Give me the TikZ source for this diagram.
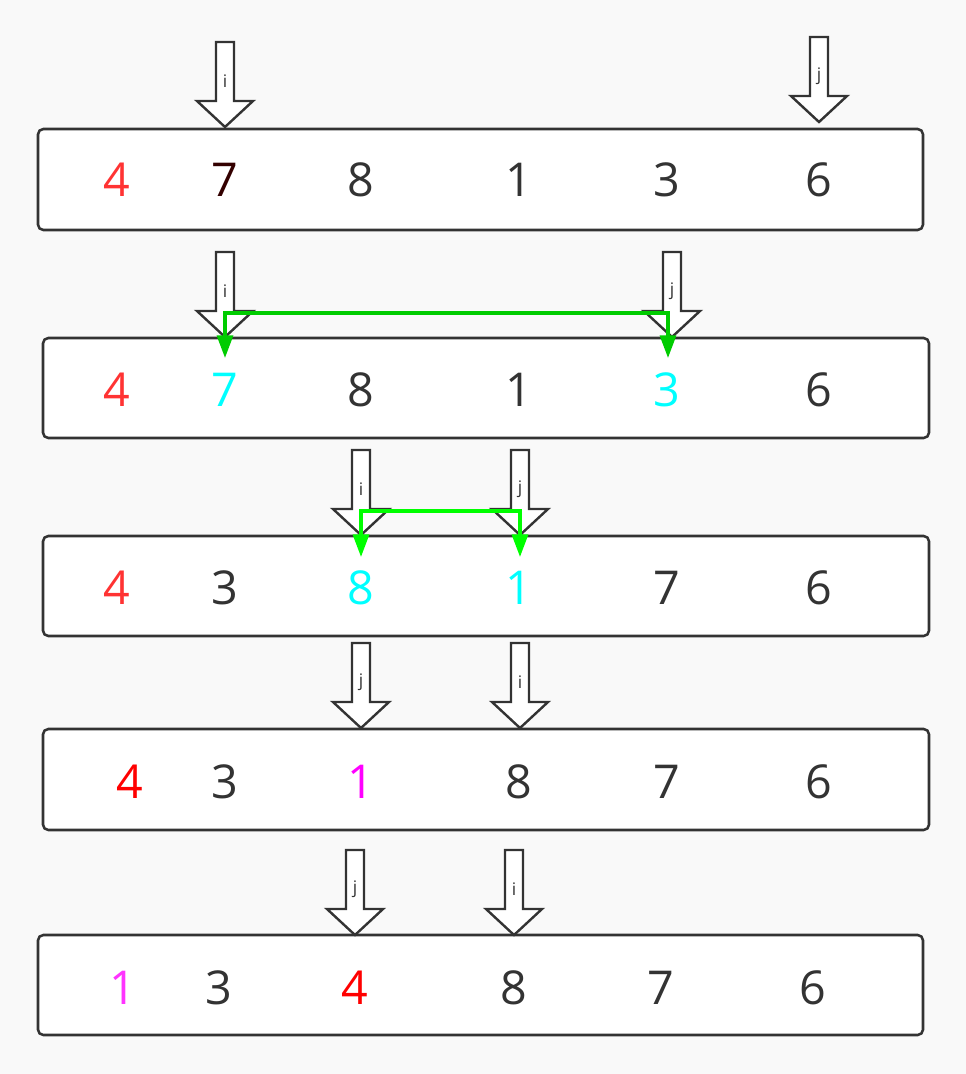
\documentclass[tikz,border=0pt]{standalone}
\usepackage{fontspec}
\setmainfont{Open Sans}
\usetikzlibrary{arrows.meta}
\definecolor{bg}{HTML}{F9F9F9}
\definecolor{dk}{HTML}{333333}
\definecolor{rd}{HTML}{FF3333}
\definecolor{prd}{HTML}{FF0000}
\definecolor{brn}{HTML}{330000}
\definecolor{cy}{HTML}{00FFFF}
\definecolor{mg}{HTML}{FF00FF}
\definecolor{lmg}{HTML}{FF33FF}
\definecolor{grA}{HTML}{00CC00}
\definecolor{grB}{HTML}{00FF00}
\begin{document}
\begin{tikzpicture}[x=0.75pt,y=-0.75pt,
  rowbox/.style={draw=dk, fill=white, line width=1.9pt, rounded corners=4pt},
  digit/.style={font=\fontsize{35}{35}\selectfont, text=dk, inner sep=0pt, anchor=center},
  ptr/.style={draw=dk, fill=white, line width=1.8pt, line join=miter},
  ptrlabel/.style={font=\fontsize{13}{13}\selectfont, text=dk, inner sep=0pt},
  swapline/.style={line width=2.4pt, {Triangle[width=12pt,length=17pt]}-{Triangle[width=12pt,length=17pt]}},
  pics/blockarrow/.style={code={
    \draw[ptr] (0,0) -- (-28,-26) -- (-9,-26) -- (-9,-85) -- (9,-85) -- (9,-26) -- (28,-26) -- cycle;
    \node[ptrlabel] at (0,-46) {#1};
  }}]
\fill[bg] (0,0) rectangle (966,1074);
\useasboundingbox (0,0) rectangle (966,1074);

% row 1
\draw[rowbox] (38,129) rectangle (923,230);
\node[digit, text=rd] (r1a) at (117,180) {4};
\node[digit, text=brn] (r1b) at (225,180) {7};
\node[digit] (r1c) at (361,180) {8};
\node[digit] (r1d) at (519,180) {1};
\node[digit] (r1e) at (667,180) {3};
\node[digit] (r1f) at (819,180) {6};
\pic at (225,127) {blockarrow=i};
\pic at (819,122) {blockarrow=j};

% row 2
\draw[rowbox] (43,338) rectangle (929,438);
\node[digit, text=rd] (r2a) at (117,390) {4};
\node[digit, text=cy] (r2b) at (225,390) {7};
\node[digit] (r2c) at (361,390) {8};
\node[digit] (r2d) at (519,390) {1};
\node[digit, text=cy] (r2e) at (667,390) {3};
\node[digit] (r2f) at (819,390) {6};
\pic at (225,337) {blockarrow=i};
\pic at (672,337) {blockarrow=j};
\coordinate (g2l) at (225,358);
\coordinate (g2a) at (225,313);
\coordinate (g2b) at (668,313);
\coordinate (g2r) at (668,358);
\draw[swapline, draw=grA] (g2l) -- (g2a) -- (g2b) -- (g2r);

% row 3
\draw[rowbox] (43,536) rectangle (929,636);
\node[digit, text=rd] (r3a) at (117,588) {4};
\node[digit] (r3b) at (225,588) {3};
\node[digit, text=cy] (r3c) at (361,588) {8};
\node[digit, text=cy] (r3d) at (519,588) {1};
\node[digit] (r3e) at (667,588) {7};
\node[digit] (r3f) at (819,588) {6};
\pic at (361,535) {blockarrow=i};
\pic at (520,535) {blockarrow=j};
\coordinate (g3l) at (361,557);
\coordinate (g3a) at (361,511);
\coordinate (g3b) at (520,511);
\coordinate (g3r) at (520,557);
\draw[swapline, draw=grB] (g3l) -- (g3a) -- (g3b) -- (g3r);

% row 4
\draw[rowbox] (43,729) rectangle (929,830);
\node[digit, text=prd] (r4a) at (130,782) {4};
\node[digit] (r4b) at (225,782) {3};
\node[digit, text=mg] (r4c) at (361,782) {1};
\node[digit] (r4d) at (519,782) {8};
\node[digit] (r4e) at (667,782) {7};
\node[digit] (r4f) at (819,782) {6};
\pic at (361,728) {blockarrow=j};
\pic at (520,728) {blockarrow=i};

% row 5
\draw[rowbox] (38,935) rectangle (923,1035);
\node[digit, text=lmg] (r5a) at (123,988) {1};
\node[digit] (r5b) at (219,988) {3};
\node[digit, text=prd] (r5c) at (355,988) {4};
\node[digit] (r5d) at (514,988) {8};
\node[digit] (r5e) at (661,988) {7};
\node[digit] (r5f) at (813,988) {6};
\pic at (355,935) {blockarrow=j};
\pic at (514,935) {blockarrow=i};
\end{tikzpicture}
\end{document}
